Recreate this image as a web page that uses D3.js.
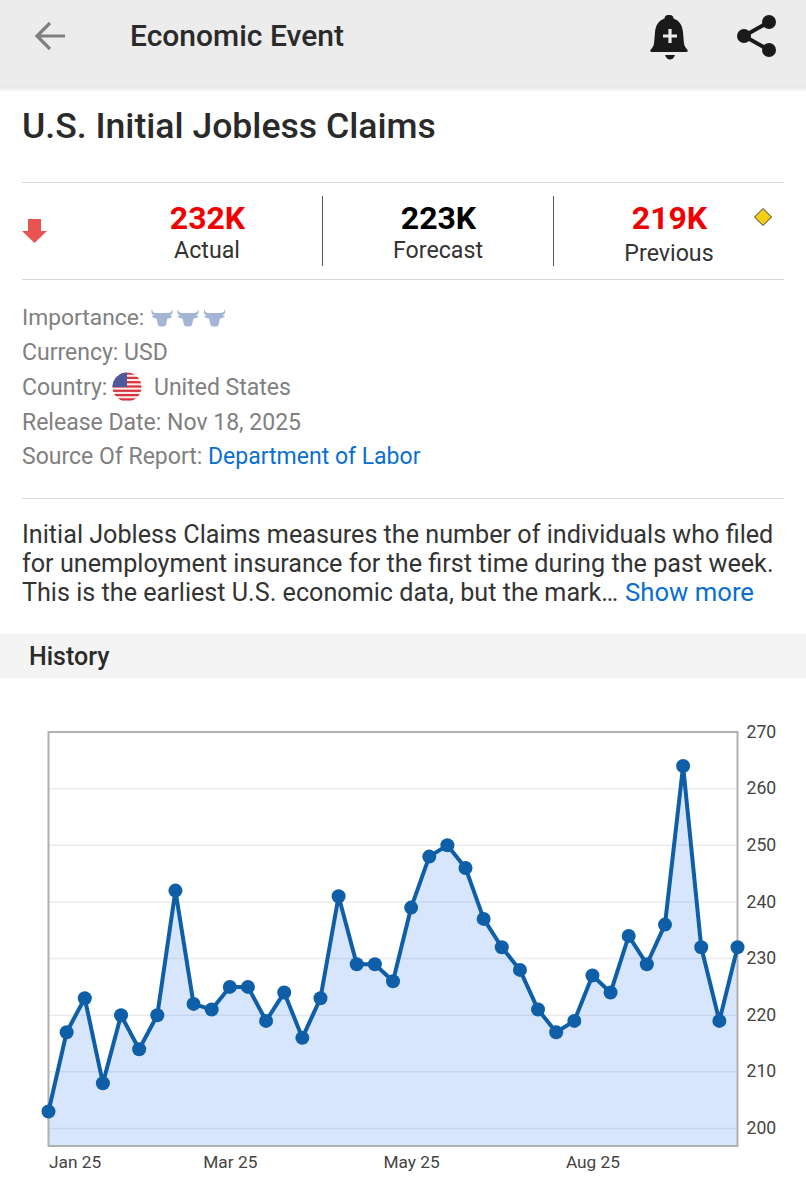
<!DOCTYPE html>
<html>
<head>
<title>U.S. Initial Jobless Claims</title>
<script src="https://d3js.org/d3.v7.min.js"></script>
<style>
  html, body { margin: 0; padding: 0; background: #fff; }
  svg { display: block; }
  text { font-family: Roboto, sans-serif; }
</style>
</head>
<body>
<svg width="806" height="1191"></svg>
<script>
// weekly claims, in thousands
var claims = [203, 217, 223, 208, 220, 214, 220, 242, 222, 221, 225, 225, 219, 224, 216, 223, 241, 229, 229, 226,
              239, 248, 250, 246, 237, 232, 228, 221, 217, 219, 227, 224, 234, 229, 236, 264, 232, 219, 232];
var xTicks = [0, 10, 20, 30];
var xTickLabels = ["Jan 25", "Mar 25", "May 25", "Aug 25"];
var yTicks = [200, 210, 220, 230, 240, 250, 260, 270];

var svg = d3.select("svg");

function label(x, y, str, size, color, weight, anchor) {
  return svg.append("text")
    .attr("x", x).attr("y", y)
    .attr("font-size", size)
    .attr("font-weight", weight || 400)
    .attr("text-anchor", anchor || "start")
    .attr("fill", color)
    .text(str);
}

function rule(x1, y1, x2, y2, color) {
  svg.append("line")
    .attr("x1", x1).attr("y1", y1).attr("x2", x2).attr("y2", y2)
    .attr("stroke", color).attr("stroke-width", 1);
}

// header bar
var defs = svg.append("defs");
var shadow = defs.append("linearGradient").attr("id", "shadow")
  .attr("x1", 0).attr("y1", 0).attr("x2", 0).attr("y2", 1);
shadow.append("stop").attr("offset", 0).attr("stop-color", "#e4e4e4");
shadow.append("stop").attr("offset", 1).attr("stop-color", "#ffffff");

svg.append("rect").attr("width", 806).attr("height", 86).attr("fill", "#ececec");
svg.append("rect").attr("y", 86).attr("width", 806).attr("height", 6).attr("fill", "url(#shadow)");

// back arrow
svg.append("path")
  .attr("d", "M65 36H38M50 23L37 36L50 49")
  .attr("fill", "none").attr("stroke", "#808080").attr("stroke-width", 3.2);

label(130, 46, "Economic Event", 30, "#2a2a2a", 500);

// bell
svg.append("path")
  .attr("fill", "#1a1a1a")
  .attr("d", "M670 15c2 0 3.500 1.500 3.500 3.500c6 2 9 7 9.500 14l1 11c.5 3 2 4.500 3.500 6.500c.5 1 0 2-1 2h-35c-1 0-1.500-1-1-2c1.500-2 3-3.500 3.500-6.500l1-11c.5-7 3.500-12 9.500-14c0-2 1.500-3.500 3.500-3.500zM665 55h10c-1 3-3 4.500-5 4.500s-4-1.500-5-4.500z");
svg.append("path")
  .attr("d", "M670 29V43M663 36H677")
  .attr("stroke", "#ececec").attr("stroke-width", 3.2);

// share
var sharePts = [[744, 36], [769, 22], [769, 50]];
svg.append("path")
  .attr("d", "M769 22L744 36L769 50")
  .attr("fill", "none").attr("stroke", "#1a1a1a").attr("stroke-width", 4);
svg.selectAll(".share").data(sharePts).enter().append("circle")
  .attr("cx", function(d) { return d[0]; })
  .attr("cy", function(d) { return d[1]; })
  .attr("r", 7).attr("fill", "#1a1a1a");

label(22, 138, "U.S. Initial Jobless Claims", 35.6, "#2a2a2a", 500);

// values row
rule(22, 182.5, 784, 182.5, "#d9d9d9");
rule(22, 279.5, 784, 279.5, "#d9d9d9");
rule(322.5, 196, 322.5, 266, "#555");
rule(553.5, 196, 553.5, 266, "#555");

svg.append("path").attr("fill", "#e85550")
  .attr("d", "M28 219H41V231H47L34.500 243L22 231H28Z");
svg.append("path").attr("fill", "#f5cf13").attr("stroke", "#333").attr("stroke-width", 1)
  .attr("d", "M763 208.500L771.500 217L763 225.500L754.500 217Z");

label(207.5, 228.500, "232K", 32, "#f00000", 700, "middle");
label(438.5, 228.500, "223K", 32, "#000000", 700, "middle");
label(669.5, 228.500, "219K", 32, "#f00000", 700, "middle");
label(207, 258, "Actual", 23.2, "#333", 400, "middle");
label(438, 258, "Forecast", 23.2, "#333", 400, "middle");
label(669, 261, "Previous", 23.2, "#333", 400, "middle");

// details
var grey = "#808080";
label(22, 325, "Importance:", 22.8, grey);
label(22, 360, "Currency: USD", 23, grey);
label(22, 395, "Country:", 23, grey);
label(154, 395, "United States", 23, grey);
label(22, 430, "Release Date: Nov 18, 2025", 23, grey);
label(22, 464, "Source Of Report:", 23, grey);
label(208, 464, "Department of Labor", 23, "#0a6fd0");

// importance bulls
[162, 188, 214.500].forEach(function(cx) {
  svg.append("path")
    .attr("fill", "#a3b5d4")
    .attr("transform", "translate(" + cx + ",318)")
    .attr("d", "M-10-9C-10-6-8-5-6-5H6C8-5 10-6 10-9C11.500-5 10-3 7-3L10.500-2C9 0 7 .5 5.500 .5L4 7C3 9-3 9-4 7L-5.500 .5C-7 .5-9 0-10.500-2L-7-3C-10-3-11.500-5-10-9Z");
});

// flag
var flag = defs.append("clipPath").attr("id", "flagClip");
flag.append("circle").attr("cx", 127).attr("cy", 387).attr("r", 14.5);
var flagG = svg.append("g").attr("clip-path", "url(#flagClip)");
flagG.append("rect").attr("x", 112).attr("y", 372).attr("width", 30).attr("height", 30).attr("fill", "#fbeaea");
d3.range(0, 7).forEach(function(i) {
  flagG.append("rect").attr("x", 112).attr("y", 372.5 + i * 4.3).attr("width", 30).attr("height", 2.2).attr("fill", "#d8343c");
});
flagG.append("rect").attr("x", 112).attr("y", 372).attr("width", 15).attr("height", 15).attr("fill", "#4d5a9e");

rule(22, 498.5, 784, 498.5, "#d9d9d9");

// description
label(22, 543, "Initial Jobless Claims measures the number of individuals who filed", 25.17, "#333");
label(22, 572, "for unemployment insurance for the first time during the past week.", 25.2, "#333");
label(22, 600.500, "This is the earliest U.S. economic data, but the mark…", 25.17, "#333");
label(625, 600.500, "Show more", 25.7, "#0a6fd0");

// history band
svg.append("rect").attr("y", 634).attr("width", 806).attr("height", 44).attr("fill", "#f4f4f4");
label(29, 664.500, "History", 25, "#2a2a2a", 500);

// chart
var plotLeft = 48.5, plotRight = 737.5, plotTop = 732, plotBottom = 1146;

var xScale = d3.scaleLinear().domain([0, claims.length - 1]).range([plotLeft, plotRight]);
var yScale = d3.scaleLinear().domain([200, 270]).range([1128.5, plotTop]);

var grid = svg.append("g");
grid.selectAll("line").data(yTicks.slice(0, -1)).enter().append("line")
  .attr("x1", plotLeft).attr("x2", plotRight)
  .attr("y1", function(d) { return yScale(d); })
  .attr("y2", function(d) { return yScale(d); })
  .attr("stroke", "#ebebeb").attr("stroke-width", 1.5);

var area = d3.area()
  .x(function(d, i) { return xScale(i); })
  .y0(plotBottom)
  .y1(function(d) { return yScale(d); });

svg.append("path").datum(claims)
  .attr("d", area)
  .attr("fill", "rgb(55,130,245)")
  .attr("fill-opacity", 0.2);

svg.append("rect")
  .attr("x", plotLeft).attr("y", plotTop)
  .attr("width", plotRight - plotLeft).attr("height", plotBottom - plotTop)
  .attr("fill", "none").attr("stroke", "#b0b0b0").attr("stroke-width", 2);

var yAxis = d3.axisRight(yScale).tickValues(yTicks).tickSize(0).tickPadding(9);
var yG = svg.append("g").attr("transform", "translate(" + plotRight + ",-0.5)").call(yAxis);
yG.select(".domain").remove();
yG.selectAll("text")
  .attr("font-family", "Roboto, sans-serif")
  .attr("font-size", 17.6).attr("fill", "#444");

var xAxis = d3.axisBottom(xScale).tickValues(xTicks).tickSize(0).tickPadding(10)
  .tickFormat(function(d, i) { return xTickLabels[i]; });
var xG = svg.append("g").attr("transform", "translate(0," + plotBottom + ")").call(xAxis);
xG.select(".domain").remove();
xG.selectAll("text")
  .attr("font-family", "Roboto, sans-serif")
  .attr("font-size", 17.3).attr("fill", "#444")
  .attr("text-anchor", function(d, i) { return i == 0 ? "start" : "middle"; });

var line = d3.line()
  .x(function(d, i) { return xScale(i); })
  .y(function(d) { return yScale(d); });

svg.append("path").datum(claims)
  .attr("d", line)
  .attr("fill", "none")
  .attr("stroke", "#0f5fa8")
  .attr("stroke-width", 4)
  .attr("stroke-linejoin", "round");

svg.selectAll(".dot").data(claims).enter().append("circle")
  .attr("class", "dot")
  .attr("cx", function(d, i) { return xScale(i); })
  .attr("cy", function(d) { return yScale(d); })
  .attr("r", 7)
  .attr("fill", "#0f5fa8");
</script>
</body>
</html>
